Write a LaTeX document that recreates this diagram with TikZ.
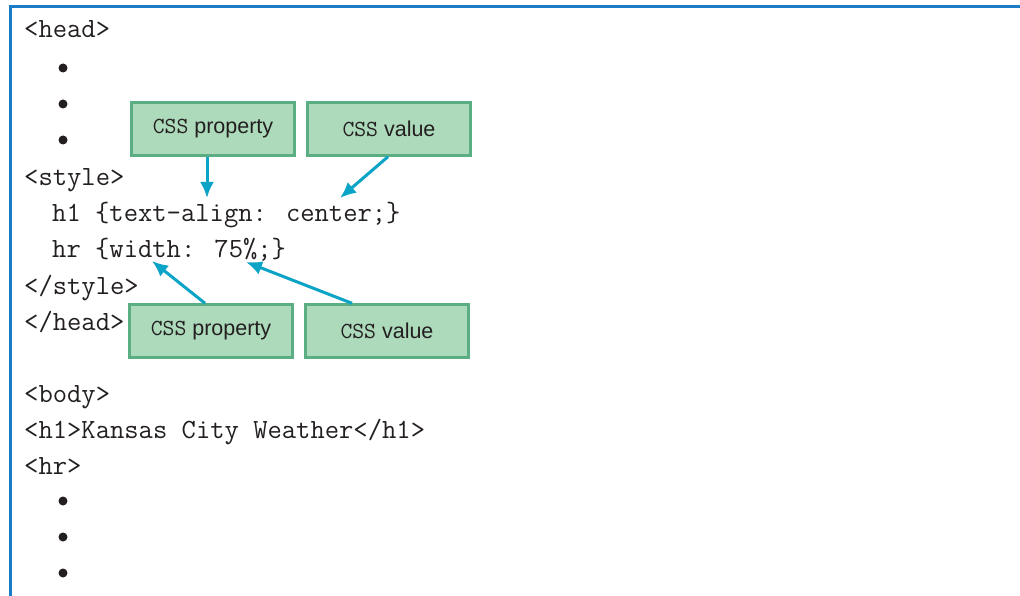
\documentclass[tikz,border=0pt]{standalone}
\usepackage{fontspec}
\setsansfont{Liberation Sans}
\usepackage{tikz}
\usetikzlibrary{arrows.meta}
\usetikzlibrary{positioning}
\definecolor{framecol}{HTML}{1A7BC6}
\definecolor{boxfill}{HTML}{ADDABB}
\definecolor{boxline}{HTML}{5BAE84}
\definecolor{pointcol}{HTML}{0BA3C6}
\definecolor{inkcol}{HTML}{231F20}
\tikzset{codeline/.style = {anchor=base west, inner sep=0pt, text=inkcol,
                            font=\ttfamily\fontsize{27.8}{28}\selectfont}}
\tikzset{callout/.style = {draw=boxline, fill=boxfill, line width=2.4pt,
                           minimum width=163pt, minimum height=53pt,
                           inner sep=0pt, text=inkcol,
                           font=\sffamily\fontsize{21.5}{22}\selectfont}}
\tikzset{pointer/.style = {draw=pointcol, line width=3pt,
                           -{Latex[length=16pt,width=14pt]}}}
\newcommand{\csstag}{{\ttfamily\fontsize{23}{23}\selectfont CSS}}

\begin{document}
\begin{tikzpicture}[x=1pt, y=-1pt]
      \useasboundingbox (0, 0) rectangle (1020, 596);
      \draw [framecol, line width=3pt] (10, 596) -- (10, 7) -- (1020, 7);
      % code listing
      \node [codeline] (lhead)     at (24, 38)  {<head>};
      \node [codeline] (lstyle)    at (24, 186) {<style>};
      \node [codeline] (lhone)     at (52, 222) {h1 \{text-align: center;\}};
      \node [codeline] (lhrule)    at (52, 258) {hr \{width: 75\%;\}};
      \node [codeline] (lendstyle) at (24, 294) {</style>};
      \node [codeline] (lendhead)  at (24, 330) {</head>};
      \node [codeline] (lbody)     at (24, 402) {<body>};
      \node [codeline] (lheading)  at (24, 438) {<h1>Kansas City Weather</h1>};
      \node [codeline] (lhr)       at (24, 474) {<hr>};
      \fill [inkcol] (63, 68) circle (4.5);
      \fill [inkcol] (63, 104) circle (4.5);
      \fill [inkcol] (63, 140) circle (4.5);
      \fill [inkcol] (63, 501) circle (4.5);
      \fill [inkcol] (63, 537) circle (4.5);
      \fill [inkcol] (63, 573) circle (4.5);
      % callouts
      \node [callout] (propTop) at (213, 129) {\csstag{} property};
      \node [callout] (valTop)  at (389, 129) {\csstag{} value};
      \node [callout] (propBot) at (211, 331) {\csstag{} property};
      \node [callout] (valBot)  at (387, 331) {\csstag{} value};
      \coordinate (propTopTip) at (207, 198);
      \coordinate (valTopTip)  at (340, 198);
      \coordinate (propBotTip) at (152, 261);
      \coordinate (valBotTip)  at (246, 262);
      \draw [pointer] (propTop.south -| propTopTip) -- (propTopTip);
      \draw [pointer] ([xshift=-1pt]valTop.south) -- (valTopTip);
      \draw [pointer] ([xshift=-6pt]propBot.north) -- (propBotTip);
      \draw [pointer] ([xshift=-35pt]valBot.north) -- (valBotTip);
    \end{tikzpicture}
\end{document}
